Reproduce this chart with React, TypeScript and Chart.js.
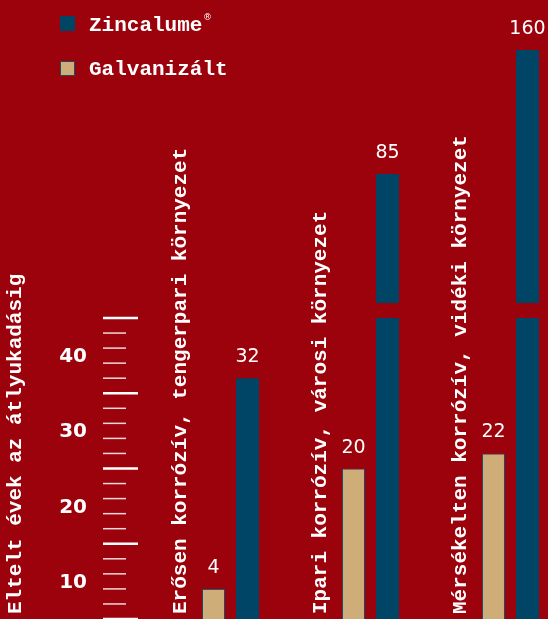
import React, { useEffect, useRef } from 'react';
import { Chart, registerables } from 'chart.js';

Chart.register(...registerables);

// ---- data ----
const CATEGORIES = [
  'Erősen korrózív, tengerpari környezet',
  'Ipari korrózív, városi környezet',
  'Mérsékelten korrózív, vidéki környezet',
];
const GALVANIZALT = [4, 20, 22];
const ZINCALUME = [32, 85, 160];
const SERIES_ZINC = 'Zincalume';
const SERIES_GALV = 'Galvanizált';
const Y_TICK_LABELS = [10, 20, 30, 40];
const Y_TITLE = 'Eltelt évek az átlyukadásig';
const BREAK_VALUE = 40; // lower axis ends here, broken bars continue above

// ---- style ----
const BG = '#9c020c';
const BLUE = '#004565';
const TAN = '#cfad79';
const GALV_BORDER = '#1f4a68';
const MONO = '"Liberation Mono", "Courier New", monospace';
const W = 548;
const H = 619;
const AXIS_W = 140;

const overlayPlugin = {
  id: 'overlay',
  afterDatasetsDraw(chart: any) {
    const ctx = chart.ctx as CanvasRenderingContext2D;
    const y = chart.scales.y;
    const area = chart.chartArea;
    ctx.save();
    // ruler ticks
    ctx.fillStyle = '#ffffff';
    y.ticks.forEach((t: any) => {
      const py = y.getPixelForValue(t.value);
      const major = t.value % 10 === 0;
      const x0 = y.right - 37;
      if (major) {
        ctx.globalAlpha = 1;
        ctx.fillRect(x0, py - 1.25, 35, 2.5);
      } else {
        ctx.globalAlpha = 0.85;
        ctx.fillRect(x0, py - 0.75, 23, 1.5);
      }
    });
    ctx.globalAlpha = 1;

    // axis title (rotated)
    ctx.font = `bold 21px ${MONO}`;
    ctx.textAlign = 'left';
    ctx.textBaseline = 'alphabetic';
    ctx.save();
    ctx.translate(21, area.bottom - 5);
    ctx.rotate(-Math.PI / 2);
    ctx.fillText(Y_TITLE, 0, 0);
    ctx.restore();

    // category labels (rotated, left of each group)
    const galvMeta = chart.getDatasetMeta(0);
    CATEGORIES.forEach((c, i) => {
      const el = galvMeta.data[i];
      if (!el) return;
      ctx.save();
      ctx.translate(el.x - 27, area.bottom - 5);
      ctx.rotate(-Math.PI / 2);
      ctx.fillText(c, 0, 0);
      ctx.restore();
    });

    // value labels
    ctx.font = '19px "DejaVu Sans", sans-serif';
    ctx.textAlign = 'center';
    const lowMeta = chart.getDatasetMeta(1);
    const topMeta = chart.getDatasetMeta(2);
    GALVANIZALT.forEach((v, i) => {
      const el = galvMeta.data[i];
      if (el) ctx.fillText(String(v), el.x, el.y - 16);
    });
    ZINCALUME.forEach((v, i) => {
      const el = v > BREAK_VALUE ? topMeta.data[i] : lowMeta.data[i];
      if (el) ctx.fillText(String(v), el.x, el.y - 16);
    });
    ctx.restore();
  },
};

const fixAxis = (s: any) => {
  s.width = AXIS_W;
  s.paddingTop = 0;
  s.paddingBottom = 0;
};

const hiddenAxis = {
  position: 'left',
  stack: 'v',
  ticks: { display: false },
  grid: { display: false, drawTicks: false },
  border: { display: false },
  afterFit: fixAxis,
};

export default function App() {
  const ref = useRef<HTMLCanvasElement | null>(null);

  useEffect(() => {
    document.body.style.margin = '0';
    document.body.style.background = BG;
    const canvas = ref.current;
    if (!canvas) return;
    const common = { barPercentage: 0.676, categoryPercentage: 0.486 };
    const chart = new Chart(canvas, {
      type: 'bar',
      data: {
        datasets: [
          {
            label: SERIES_GALV,
            data: GALVANIZALT.map((v, i) => ({ x: i, y: v })),
            yAxisID: 'y',
            stack: 'g',
            backgroundColor: TAN,
            borderColor: GALV_BORDER,
            borderWidth: 1,
            ...common,
          },
          {
            label: SERIES_ZINC,
            data: ZINCALUME.map((v, i) => ({ x: i, y: Math.min(v, BREAK_VALUE) })),
            yAxisID: 'y',
            stack: 'z',
            backgroundColor: BLUE,
            borderWidth: 0,
            ...common,
          },
          {
            label: SERIES_ZINC + ' (felső)',
            data: ZINCALUME.map((v, i) => ({ x: i, y: v > BREAK_VALUE ? v : null })),
            yAxisID: 'yTop',
            stack: 'z',
            backgroundColor: BLUE,
            borderWidth: 0,
            ...common,
          },
        ] as any,
      },
      options: {
        responsive: false,
        animation: false,
        events: [],
        layout: { padding: 0 },
        plugins: { legend: { display: false }, tooltip: { enabled: false } },
        scales: {
          x: {
            type: 'linear',
            display: false,
            min: -0.6464,
            max: 2.2679,
            bounds: 'data',
            offset: false,
            ticks: { stepSize: 1, includeBounds: false },
            afterBuildTicks: (s: any) => {
              s.ticks = CATEGORIES.map((_, i) => ({ value: i }));
            },
          },
          y: {
            type: 'linear',
            position: 'left',
            stack: 'v',
            stackWeight: 301,
            weight: 0,
            min: 0,
            max: BREAK_VALUE,
            stacked: false,
            ticks: {
              stepSize: 2,
              autoSkip: false,
              maxTicksLimit: 100,
              callback: (v: any) => (Y_TICK_LABELS.includes(Number(v)) ? String(v) : ''),
              labelOffset: 38.8,
              padding: 53,
              color: '#ffffff',
              font: { family: '"DejaVu Sans", sans-serif', weight: 'bold', size: 20 },
            },
            grid: { display: false, drawTicks: false },
            border: { display: false },
            afterFit: fixAxis,
          },
          yGap: {
            ...hiddenAxis,
            type: 'linear',
            stackWeight: 15,
            weight: 1,
            min: 0,
            max: 1,
          },
          yTop: {
            ...hiddenAxis,
            type: 'logarithmic',
            stackWeight: 303,
            weight: 2,
            min: 44,
            max: 206.6,
            bounds: 'data',
            stacked: false,
          },
        } as any,
      },
      plugins: [overlayPlugin],
    });
    return () => chart.destroy();
  }, []);

  const legendText: React.CSSProperties = {
    position: 'absolute',
    left: 89,
    font: `bold 21px ${MONO}`,
    lineHeight: '21px',
    color: '#ffffff',
    whiteSpace: 'nowrap',
  };

  return (
    <div style={{ position: 'relative', width: W, height: H, background: BG, overflow: 'hidden' }}>
      <canvas ref={ref} width={W} height={H} style={{ display: 'block', width: W, height: H }} />
      <div style={{ position: 'absolute', left: 60, top: 16, width: 15, height: 15, background: BLUE }} />
      <div style={{ ...legendText, top: 15 }}>{SERIES_ZINC}</div>
      <div
        style={{
          position: 'absolute',
          left: 203,
          top: 12,
          font: '9px "DejaVu Sans", sans-serif',
          color: '#ffffff',
        }}
      >
        ®
      </div>
      <div
        style={{
          position: 'absolute',
          left: 60,
          top: 61,
          width: 15,
          height: 15,
          boxSizing: 'border-box',
          background: TAN,
          border: `1px solid ${GALV_BORDER}`,
        }}
      />
      <div style={{ ...legendText, top: 59 }}>{SERIES_GALV}</div>
    </div>
  );
}
